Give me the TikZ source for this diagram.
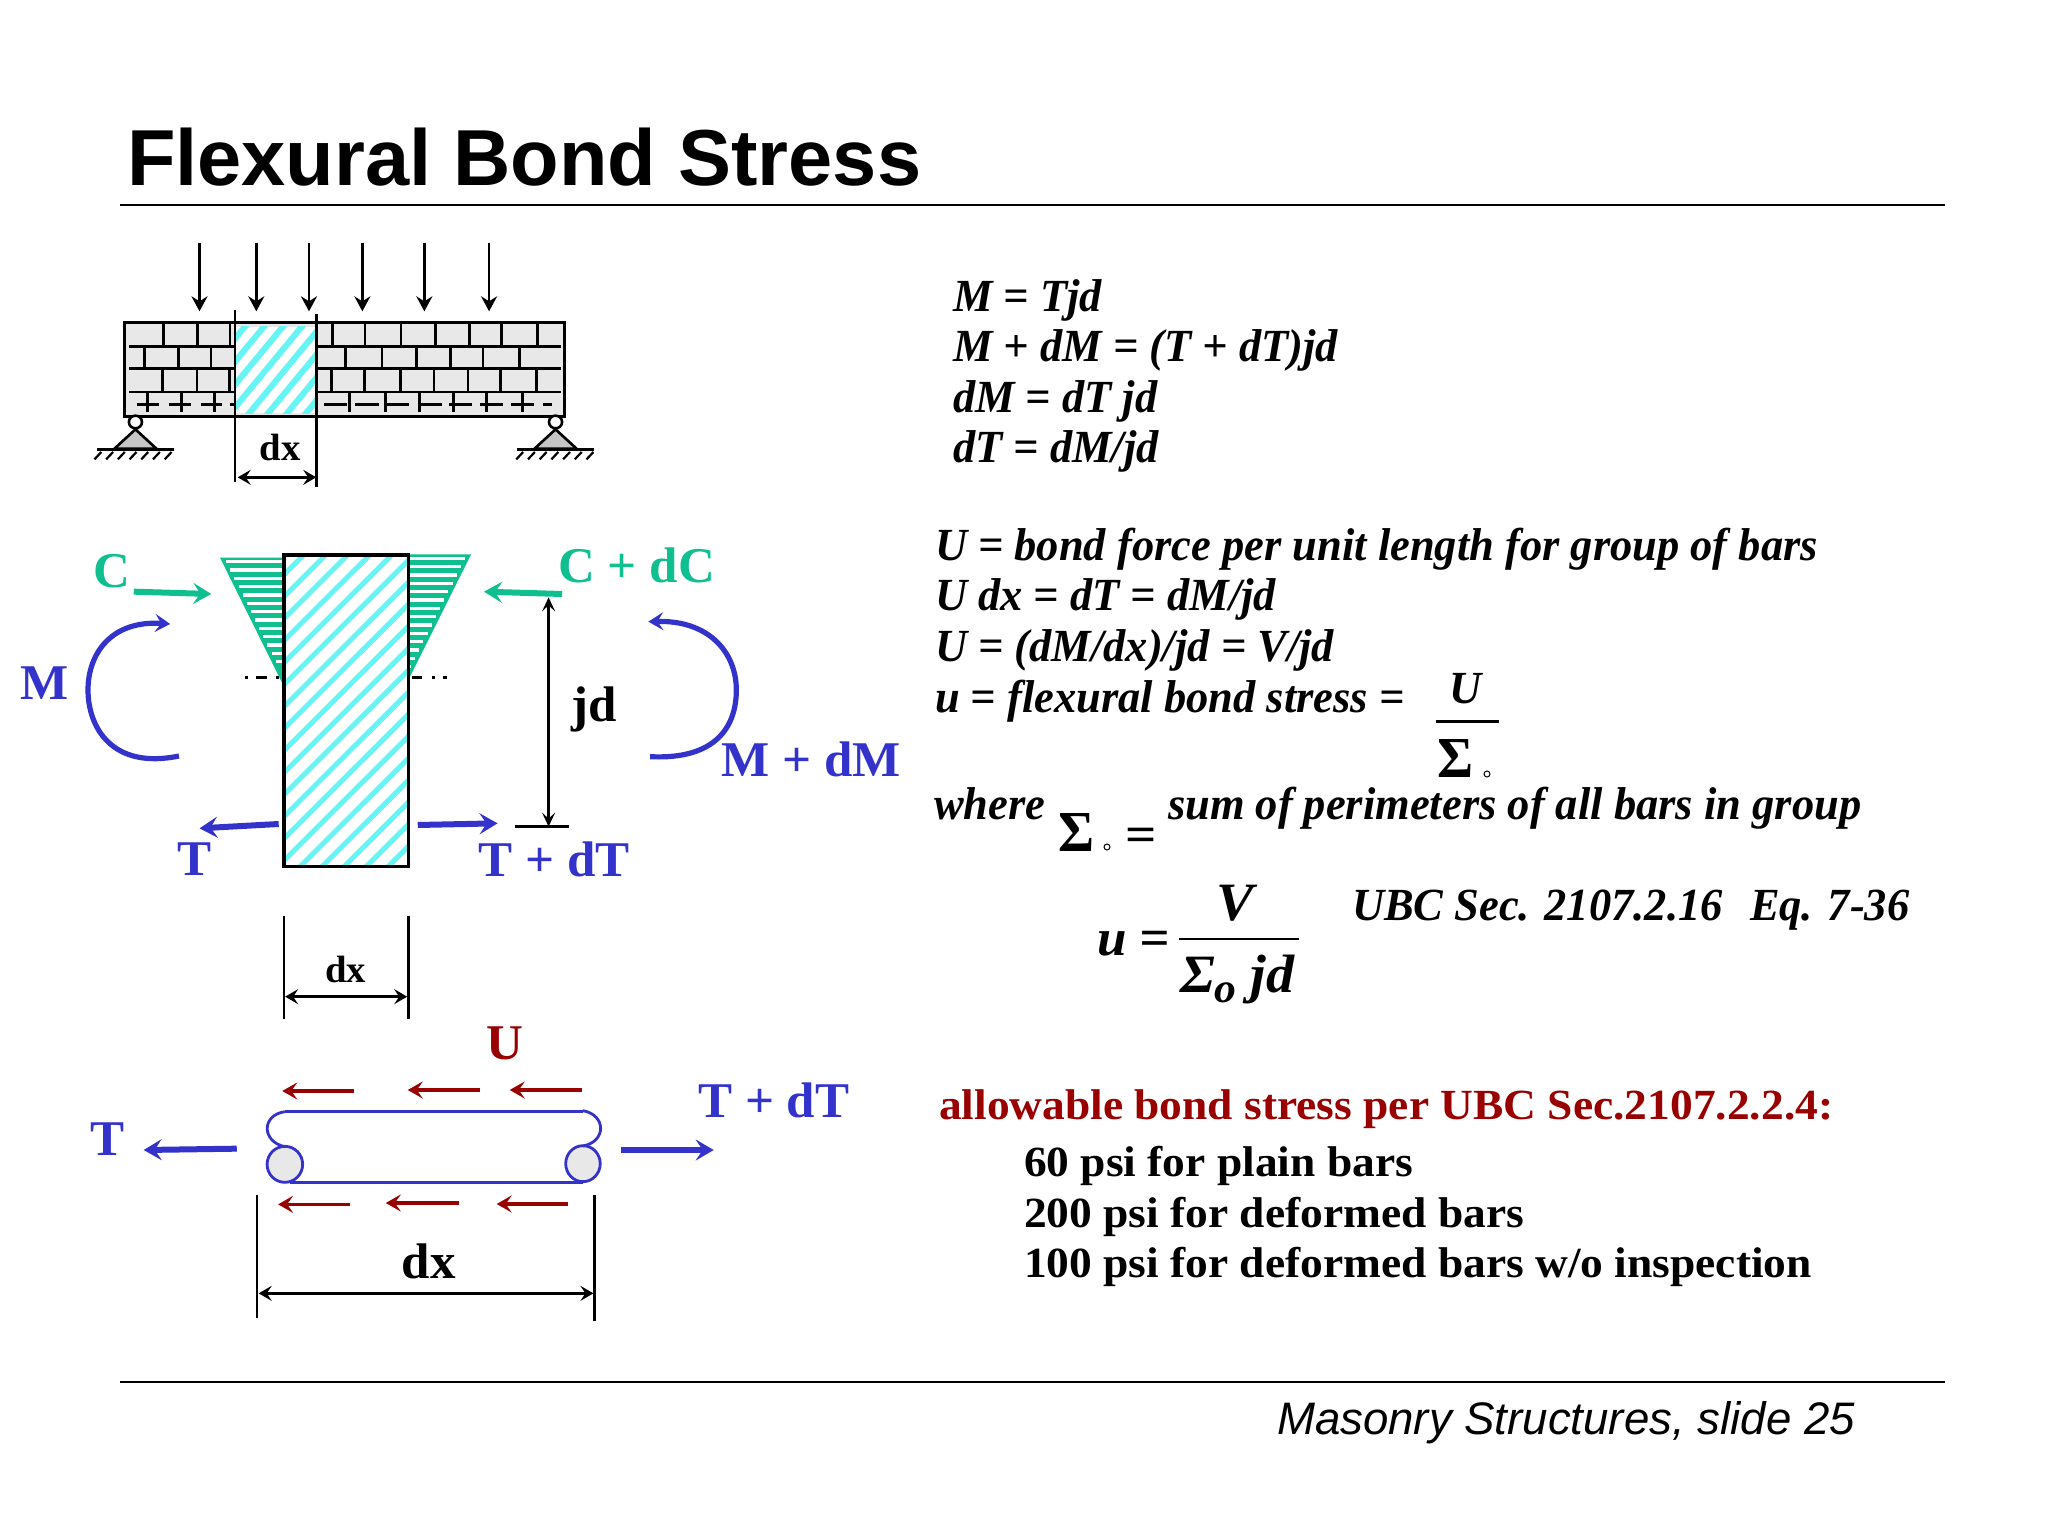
\documentclass[tikz,border=0pt]{standalone}
\usepackage{fontspec}
\usetikzlibrary{arrows.meta}
\setmainfont{Liberation Serif}
\newfontfamily\sansf{Liberation Sans}
\newcommand{\fs}[1]{\fontsize{#1pt}{#1pt}\selectfont}
\definecolor{grn}{HTML}{0FBF90}
\definecolor{blu}{HTML}{3333CC}
\definecolor{drd}{HTML}{990000}
\definecolor{cya}{HTML}{66F4F4}
\definecolor{brk}{HTML}{E8E8E8}
\tikzset{
 txt/.style={anchor=base west,inner sep=0pt,outer sep=0pt,xscale=#1,transform shape},
 txt/.default=1,
 lbl/.style={inner sep=0pt,outer sep=0pt,xscale=1.02,transform shape,font=\bfseries\fs{50}},
 eq/.style={txt=.967,font=\bfseries\itshape\fs{46}},
 eqb/.style={txt=1.04,font=\bfseries\itshape\fs{54}},
 bl/.style={txt=1.057,font=\bfseries\fs{43}},
 fat/.style={line width=6pt,-{Stealth[length=18pt,width=21pt,inset=7pt]}},
 arc/.style={line width=5.2pt,blu,-{Stealth[length=15pt,width=18pt,inset=6pt]}},
 rar/.style={line width=3.6pt,drd,-{Stealth[length=15pt,width=17pt,inset=6pt]}},
 dim/.style={line width=3pt,{Stealth[length=13pt,width=15pt,inset=5pt]}-{Stealth[length=13pt,width=15pt,inset=5pt]}},
}
\begin{document}
\begin{tikzpicture}[x=1pt,y=-1pt]
\useasboundingbox[fill=white] (0,0) rectangle (2048,1536);
% title
\node[txt,font=\sansf\bfseries\fs{79.4}] (title) at (127,185) {Flexural Bond Stress};
\draw[line width=2.8pt] (120,205) -- (1945,205);
\draw[line width=2.8pt] (120,1382) -- (1945,1382);
\node[txt,font=\sansf\itshape\fs{45.6}] (foot) at (1277,1434) {Masonry Structures, slide 25};
% ---------- beam
\begin{scope}[shift={(80,220)},x=0.34435pt,y=-0.33333pt]
 \fill[brk] (130,306) rectangle (1408,588);
 \foreach \xx in {347,512,665,820,1000,1188}
   \draw[line width=2.6pt,-{Stealth[length=15pt,width=16pt,inset=5pt]}] (\xx,68) -- (\xx,274);
 \begin{scope}[line width=2.7pt]
 \draw (143,380) -- (452,380) (690,380) -- (1397,380);
 \draw (143,446) -- (452,446) (690,446) -- (1397,446);
 \draw (143,516) -- (452,516) (690,516) -- (1397,516);
 \foreach \xx in {243,342,436,733,828,932,1032,1131,1225,1329} \draw (\xx,310) -- (\xx,380);
 \foreach \xx in {187,287,380,772,877,977,1075,1170,1277} \draw (\xx,380) -- (\xx,446);
 \foreach \xx in {240,340,435,730,826,930,1028,1127,1222,1326} \draw (\xx,446) -- (\xx,516);
 \foreach \xx in {197,295,390,783,887,986,1085,1180,1285} \draw (\xx,516) -- (\xx,575);
 \foreach \a/\b in {165/230,258/322,350/413,437/452,710/775,800/867,890/955,985/1050,1072/1137,1163/1228,1253/1318,1345/1372}
   \draw (\a,553) -- (\b,553);
 \end{scope}
 \fill[white] (452,320) rectangle (687,580);
 \begin{scope}
  \clip (452,320) rectangle (687,580);
  \foreach \k in {0,...,9} \draw[cya,line width=6pt] (200+\k*55,600) -- ++(240,-300);
 \end{scope}
 \draw[line width=3pt] (130,306) rectangle (1408,588);
 \draw[line width=2.6pt] (450,270) -- (450,785);
 \draw[line width=2.6pt] (686,283) -- (686,800);
 \node[lbl,font=\bfseries\fs{38}] (dxa) at (581,682) {dx};
 \draw[dim] (458,772) -- (686,772);
 % supports
 \foreach \c/\gl/\gr/\hs in {161/50/272/50,1381/1270/1492/1275}{
  \draw[line width=2.6pt,fill=white] (\c,606) circle[x radius=19,y radius=19];
  \draw[line width=2.6pt,fill=gray!45] (\c,628) -- (\c-61,686) -- (\c+61,686) -- cycle;
  \draw[line width=2.6pt] (\gl,688) -- (\gr,688);
  \foreach \k in {0,...,6} \draw[line width=2.2pt] (\hs+12+\k*34,696) -- ++(-20,22);
 }
\end{scope}
% ---------- section
\begin{scope}[shift={(0,520)},x=0.58673pt,y=-0.33333pt]
 \fill[grn] (375,113) -- (484,113) -- (484,500) -- cycle;
 \fill[grn] (803,103) -- (696,103) -- (696,480) -- cycle;
 \foreach \yy in {125,150,...,445}{
   \pgfmathsetmacro{\xl}{375+(\yy-113)*0.2817+7}
   \draw[white,line width=3.6pt] (\xl,\yy) -- (484,\yy);
 }
 \foreach \yy in {115,140,...,440}{
   \pgfmathsetmacro{\xr}{803-(\yy-103)*0.2838-7}
   \draw[white,line width=3.6pt] (696,\yy) -- (\xr,\yy);
 }
 \fill[white] (484,105) rectangle (696,1040);
 \begin{scope}
  \clip (484,105) rectangle (696,1040);
  \foreach \k in {0,...,22} \draw[cya,line width=5pt] (-100+\k*37.5,1060) -- ++(600,-1056);
 \end{scope}
 \draw[line width=3.2pt] (484,105) rectangle (696,1040);
 \draw[line width=2.7pt] (418,473) -- (423,473) (436,473) -- (455,473) (470,473) -- (476,473);
 \draw[line width=2.7pt] (702,473) -- (719,473) (736,473) -- (741,473) (755,473) -- (762,473);
 \draw[fat,grn] (228,215) -- (360,222);
 \draw[fat,grn] (958,222) -- (825,215);
 \draw[fat,blu] (475,912) -- (340,925);
 \draw[fat,blu] (712,915) -- (848,910);
 \draw[arc] (305,708) .. controls (190,750) and (150,620) .. (150,510) .. controls (150,400) and (190,300) .. (290,312);
 \draw[arc] (1108,710) .. controls (1220,720) and (1255,620) .. (1255,510) .. controls (1255,400) and (1210,300) .. (1105,305);
 \draw[line width=2.4pt,{Stealth[length=14pt,width=13pt,inset=6pt]}-{Stealth[length=14pt,width=13pt,inset=6pt]}] (935,232) -- (935,920);
 \draw[line width=3.2pt] (878,920) -- (970,920);
 \draw[line width=2.5pt] (484,1187) -- (484,1497);
 \draw[line width=2.5pt] (696,1187) -- (696,1497);
 \draw[dim] (486,1430) -- (694,1430);
 \node[lbl,text=grn] (c) at (190,153) {C};
 \node[lbl,text=grn] (cdc) at (1085,135) {C + dC};
 \node[lbl,text=blu] (m) at (76,490) {M};
 \node[lbl,text=blu] (mdm) at (1383,717) {M + dM};
 \node[lbl,text=blu] (t) at (332,1018) {T};
 \node[lbl,text=blu] (tdt) at (945,1018) {T + dT};
 \node[lbl] (jd) at (1012,567) {jd};
 \node[lbl,font=\bfseries\fs{38}] (dxb) at (589,1347) {dx};
\end{scope}
% ---------- bar
\begin{scope}[shift={(60,1020)},x=0.52296pt,y=-0.33333pt]
 \begin{scope}[blu,line width=2.8pt]
 \draw (430,275) -- (1000,275) (440,488) -- (1000,488);
 \draw[fill=brk] (430,433) circle[x radius=34,y radius=54];
 \draw[fill=brk] (1000,431) circle[x radius=33,y radius=54];
 \draw (430,275) .. controls (385,285) and (385,365) .. (430,380);
 \draw (1000,272) .. controls (1045,285) and (1045,365) .. (1000,378);
 \end{scope}
 \foreach \a/\b/\yy in {563/425/213,803/665/210,998/860/210,555/417/553,763/623/549,972/835/552}
   \draw[rar] (\a,\yy) -- (\b,\yy);
 \draw[fat,blu] (338,386) -- (160,390);
 \draw[fat,blu] (1073,390) -- (1250,390);
 \draw[line width=2.5pt] (377,525) -- (377,893);
 \draw[line width=2.5pt] (1022,525) -- (1022,902);
 \draw[dim] (380,820) -- (1020,820);
 \node[lbl,text=drd] (u) at (850,70) {U};
 \node[lbl,text=blu] (tb) at (90,358) {T};
 \node[lbl,text=blu] (tdtb) at (1365,240) {T + dT};
 \node[lbl,font=\bfseries\fs{50}] (dxc) at (705,724) {dx};
\end{scope}
% ---------- equations
\node[eq] (e1) at (953,311) {M = Tjd};
\node[eq] (e2) at (953,361) {M + dM = (T + dT)jd};
\node[eq] (e3) at (953,412) {dM = dT jd};
\node[eq] (e4) at (953,462) {dT = dM/jd};
\node[eq] (e5) at (935,560) {U = bond force per unit length for group of bars};
\node[eq] (e6) at (935,610) {U dx = dT = dM/jd};
\node[eq] (e7) at (935,661) {U = (dM/dx)/jd = V/jd};
\node[eq] (e8) at (935,712) {u = flexural bond stress =};
\node[eq,anchor=base] (e9) at (1466,703) {U};
\draw[line width=2.2pt] (1436,721.5) -- (1499,721.5);
\node[txt=.95,font=\bfseries\fs{58}] (s1) at (1437,777) {Σ};
\draw[line width=1pt] (1487,774) circle[radius=3];
\node[eq] (e10) at (934,819) {where};
\node[txt=.95,font=\bfseries\fs{58}] (s2) at (1058,851) {Σ};
\draw[line width=1pt] (1107,847) circle[radius=3];
\node[txt=1.1,font=\bfseries\fs{50}] (eqs) at (1125,851) {=};
\node[eq] (e11) at (1168,819) {sum of perimeters of all bars in group};
\node[eqb,font=\bfseries\itshape\fs{52},txt=.98] (e12) at (1097,955) {u =};
\node[eqb,anchor=base] (e13) at (1235,920) {V};
\draw[line width=2.6pt] (1179,939) -- (1299,939);
\node[eqb] (e14) at (1180,992) {Σ\raisebox{-10pt}{\fs{42}o} jd};
\node[eq] (e15) at (1352,920) {UBC Sec. 2107.2.16};
\node[eq] (e16) at (1750,920) {Eq. 7-36};
% ---------- allowable
\node[bl,text=drd] (a1) at (939,1119) {allowable bond stress per UBC Sec.2107.2.2.4:};
\node[bl] (a2) at (1024,1176) {60 psi for plain bars};
\node[bl] (a3) at (1024,1227) {200 psi for deformed bars};
\node[bl] (a4) at (1024,1277) {100 psi for deformed bars w/o inspection};
\end{tikzpicture}
\end{document}
